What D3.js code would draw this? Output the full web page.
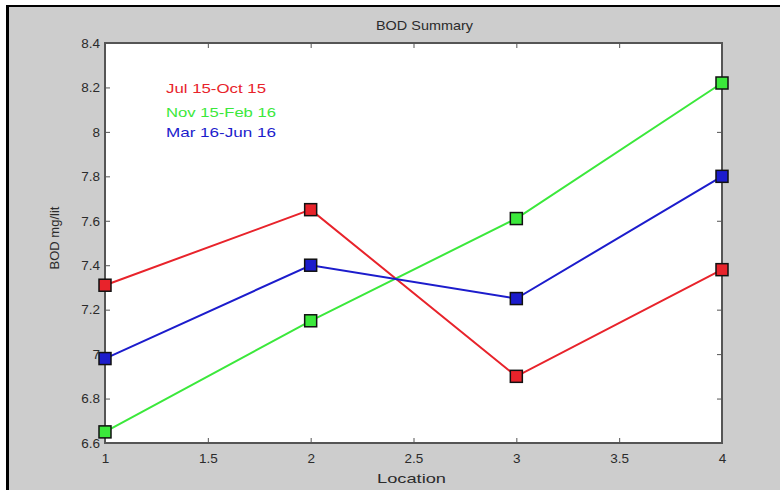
<!DOCTYPE html>
<html><head><meta charset="utf-8">
<script src="https://cdn.jsdelivr.net/npm/d3@7"></script>
<style>html,body{margin:0;padding:0;background:#fff;}svg{display:block;}</style>
</head><body>
<script>
const locations = [1, 2, 3, 4];
const seriesNames = ["Jul 15-Oct 15", "Nov 15-Feb 16", "Mar 16-Jun 16"];
const julOct = [7.31, 7.65, 6.90, 7.38];
const novFeb = [6.65, 7.15, 7.61, 8.22];
const marJun = [6.98, 7.40, 7.25, 7.80];
const seriesColors = ["#e8232b", "#3be83b", "#1c1ccc"];
const xTicks = [1, 1.5, 2, 2.5, 3, 3.5, 4];
const yTicks = [6.6, 6.8, 7, 7.2, 7.4, 7.6, 7.8, 8, 8.2, 8.4];
const title = "BOD Summary";
const xLabel = "Location";
const yLabel = "BOD mg/lit";

const W = 780, H = 493;
const svg = d3.select("body").append("svg").attr("width", W).attr("height", H);
const font = "Liberation Sans, Arial, sans-serif";
const textColor = "#2b2b2b";

// figure background
svg.append("rect").attr("x", 7).attr("y", 6).attr("width", W - 7).attr("height", 484).attr("fill", "#cdcdcd");
svg.append("line").attr("x1", 7.5).attr("x2", 7.5).attr("y1", 5).attr("y2", 490).attr("stroke", "#000").attr("stroke-width", 3);
svg.append("line").attr("x1", 6).attr("x2", W).attr("y1", 6).attr("y2", 6).attr("stroke", "#000").attr("stroke-width", 2);

const L = 105, R = 722, T = 43, B = 443;
const x = d3.scaleLinear().domain([1, 4]).range([L, R]);
const y = d3.scaleLinear().domain([6.6, 8.4]).range([B, T]);

svg.append("rect").attr("x", L).attr("y", T).attr("width", R - L).attr("height", B - T).attr("fill", "#fff");

const fmt = d => String(d);
const axStyle = g => {
  g.select(".domain").remove();
  g.selectAll(".tick line").attr("stroke", "#555").attr("stroke-width", 1);
  g.selectAll(".tick text").attr("fill", textColor).attr("font-family", font).attr("font-size", 13.5);
};
svg.append("g").attr("transform", `translate(0,${B})`)
  .call(d3.axisBottom(x).tickValues(xTicks).tickFormat(fmt).tickSizeInner(-5).tickSizeOuter(0).tickPadding(10))
  .call(axStyle);
svg.append("g").attr("transform", `translate(0,${T})`)
  .call(d3.axisTop(x).tickValues(xTicks).tickFormat("").tickSizeInner(-5).tickSizeOuter(0))
  .call(axStyle);
svg.append("g").attr("transform", `translate(${L},0)`)
  .call(d3.axisLeft(y).tickValues(yTicks).tickFormat(fmt).tickSizeInner(-5).tickSizeOuter(0).tickPadding(5))
  .call(axStyle);
svg.append("g").attr("transform", `translate(${R},0)`)
  .call(d3.axisRight(y).tickValues(yTicks).tickFormat("").tickSizeInner(-5).tickSizeOuter(0))
  .call(axStyle);

// axes box
svg.append("rect").attr("x", L).attr("y", T).attr("width", R - L).attr("height", B - T)
  .attr("fill", "none").attr("stroke", "#555").attr("stroke-width", 2);

const allSeries = [julOct, novFeb, marJun];
const line = d3.line().x((d, i) => x(locations[i])).y(d => y(d));
allSeries.forEach((vals, si) => {
  svg.append("path").datum(vals).attr("d", line).attr("fill", "none")
    .attr("stroke", seriesColors[si]).attr("stroke-width", 2);
});
allSeries.forEach((vals, si) => {
  svg.selectAll(null).data(vals).enter().append("rect")
    .attr("x", (d, i) => x(locations[i]) - 6).attr("y", d => y(d) - 6)
    .attr("width", 12).attr("height", 12)
    .attr("fill", seriesColors[si]).attr("stroke", "#111").attr("stroke-width", 1.5);
});

// legend
const legY = [88, 112, 132];
const legW = [100, 110, 110];
seriesNames.forEach((n, i) => {
  svg.append("text").attr("x", 166).attr("y", legY[i]).attr("dy", "0.35em")
    .attr("fill", seriesColors[i]).attr("font-family", font).attr("font-size", 13.5)
    .attr("textLength", legW[i]).attr("lengthAdjust", "spacingAndGlyphs").text(n);
});

svg.append("text").attr("x", 376).attr("y", 25).attr("dy", "0.35em")
  .attr("fill", textColor).attr("font-family", font).attr("font-size", 13.5)
  .attr("textLength", 97).attr("lengthAdjust", "spacingAndGlyphs").text(title);
svg.append("text").attr("x", 377).attr("y", 478).attr("dy", "0.35em")
  .attr("fill", textColor).attr("font-family", font).attr("font-size", 13.5)
  .attr("textLength", 69).attr("lengthAdjust", "spacingAndGlyphs").text(xLabel);
svg.append("text").attr("transform", `translate(54,${(T + B) / 2 - 5}) rotate(-90)`).attr("dy", "0.35em")
  .attr("text-anchor", "middle").attr("fill", textColor).attr("font-family", font).attr("font-size", 13).text(yLabel);
</script>
</body></html>
